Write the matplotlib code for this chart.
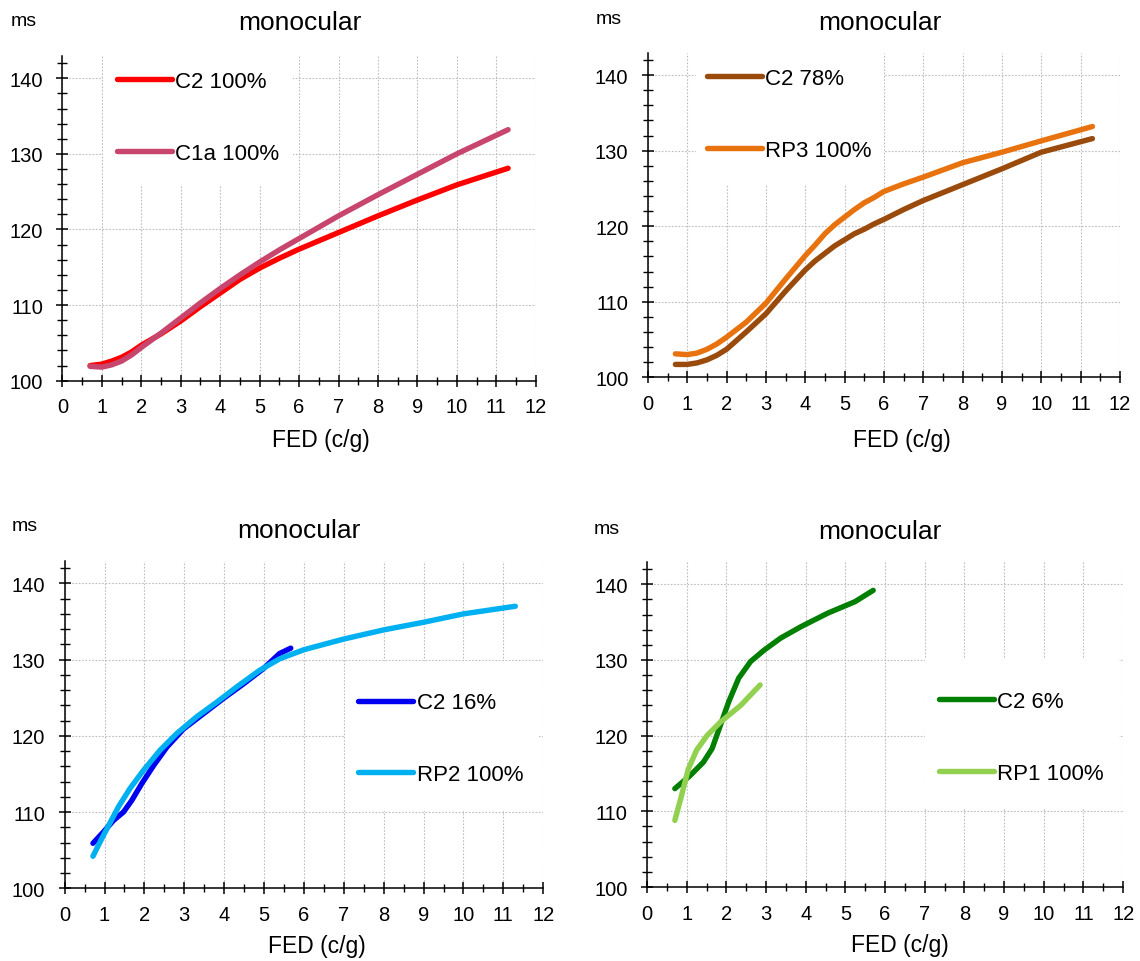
import matplotlib
matplotlib.use("Agg")
import matplotlib.pyplot as plt
from matplotlib.patches import Rectangle
from matplotlib.ticker import MultipleLocator

plt.rcParams["font.family"] = ["Liberation Sans", "DejaVu Sans"]

# ---- data: FED (c/g) vs latency (ms) ----
fed_c2_100 = [0.7, 1.0, 1.25, 1.5, 1.75, 2.0, 2.5, 3.0, 3.5, 4.0, 4.5, 5.0, 5.5, 6.0, 6.5, 7.0, 8.0, 9.0, 10.0, 11.3]
ms_c2_100 = [102.0, 102.2, 102.6, 103.1, 103.8, 104.7, 106.2, 107.9, 109.8, 111.6, 113.4, 114.9, 116.2, 117.4, 118.5, 119.6, 121.8, 123.9, 125.9, 128.1]
fed_c1a_100 = [0.7, 1.0, 1.25, 1.5, 1.75, 2.0, 2.5, 3.0, 3.5, 4.0, 4.5, 5.0, 5.5, 6.0, 6.5, 7.0, 8.0, 9.0, 10.0, 11.3]
ms_c1a_100 = [101.9, 101.8, 102.1, 102.6, 103.4, 104.4, 106.3, 108.3, 110.3, 112.2, 114.0, 115.7, 117.3, 118.8, 120.3, 121.8, 124.6, 127.3, 130.0, 133.2]

fed_c2_78 = [0.7, 1.0, 1.25, 1.5, 1.75, 2.0, 2.5, 3.0, 3.5, 4.0, 4.25, 4.5, 4.75, 5.0, 5.25, 5.5, 5.75, 6.0, 6.5, 7.0, 8.0, 9.0, 10.0, 11.3]
ms_c2_78 = [101.7, 101.7, 101.9, 102.3, 102.9, 103.7, 106.0, 108.4, 111.4, 114.2, 115.4, 116.4, 117.4, 118.2, 119.0, 119.6, 120.3, 120.9, 122.2, 123.4, 125.5, 127.6, 129.8, 131.6]
fed_rp3_100 = [0.7, 1.0, 1.25, 1.5, 1.75, 2.0, 2.5, 3.0, 3.5, 4.0, 4.25, 4.5, 4.75, 5.0, 5.25, 5.5, 5.75, 6.0, 6.5, 7.0, 8.0, 9.0, 10.0, 11.3]
ms_rp3_100 = [103.1, 103.0, 103.2, 103.7, 104.4, 105.3, 107.3, 109.8, 113.0, 116.1, 117.5, 119.0, 120.2, 121.2, 122.2, 123.1, 123.8, 124.6, 125.6, 126.5, 128.4, 129.8, 131.3, 133.2]

fed_c2_16 = [0.71, 0.975, 1.225, 1.475, 1.68, 1.93, 2.23, 2.56, 2.98, 3.48, 3.98, 4.48, 4.98, 5.39, 5.67]
ms_c2_16 = [105.9, 107.4, 108.9, 110.0, 111.5, 113.7, 116.1, 118.5, 120.9, 122.9, 124.9, 126.8, 128.8, 130.8, 131.5]
fed_rp2_100 = [0.71, 0.89, 1.1, 1.35, 1.64, 1.98, 2.39, 2.81, 3.31, 3.81, 4.31, 4.89, 5.39, 6.0, 7.0, 8.0, 9.0, 10.0, 11.3]
ms_rp2_100 = [104.2, 106.1, 108.2, 110.7, 113.1, 115.5, 118.1, 120.3, 122.5, 124.4, 126.4, 128.6, 130.1, 131.3, 132.7, 133.9, 134.9, 136.0, 137.0]

fed_c2_6 = [0.7, 1.08, 1.42, 1.64, 1.85, 2.06, 2.31, 2.61, 2.95, 3.37, 3.88, 4.56, 5.24, 5.7]
ms_c2_6 = [113.0, 114.7, 116.5, 118.3, 121.4, 124.5, 127.6, 129.8, 131.3, 132.9, 134.4, 136.2, 137.7, 139.2]
fed_rp1_100 = [0.7, 0.87, 1.04, 1.25, 1.51, 1.85, 2.36, 2.85]
ms_rp1_100 = [108.8, 112.1, 115.6, 118.1, 120.0, 121.8, 124.0, 126.7]

x_ticks = list(range(0, 13))
y_ticks = [100, 110, 120, 130, 140]
title_text = "monocular"
xlabel_text = "FED (c/g)"
ylabel_text = "ms"

panels = [
    dict(rect=[0.0548, 0.6032, 0.4151, 0.3372],
         series=[(fed_c2_100, ms_c2_100, "#FF0000", "C2 100%"),
                 (fed_c1a_100, ms_c1a_100, "#C8466E", "C1a 100%")],
         leg_anchor=(0.1145, 0.812), box=(0.0856, 0.600, 0.487, 1.0),
         title_xy=(300, 23), xlabel_xy=(321, 440), ms_xy=(11, 21)),
    dict(rect=[0.5683, 0.6068, 0.4141, 0.3368],
         series=[(fed_c2_78, ms_c2_78, "#9A4A0A", "C2 78%"),
                 (fed_rp3_100, ms_rp3_100, "#E8720E", "RP3 100%")],
         leg_anchor=(0.1248, 0.812), box=(0.102, 0.5935, 0.5007, 1.0),
         title_xy=(880, 23), xlabel_xy=(902, 440), ms_xy=(596, 20)),
    dict(rect=[0.0567, 0.0756, 0.4198, 0.3399],
         series=[(fed_c2_16, ms_c2_16, "#0000F0", "C2 16%"),
                 (fed_rp2_100, ms_rp2_100, "#00B0F0", "RP2 100%")],
         leg_anchor=(0.6137, 0.4574), box=(0.5859, 0.2373, 0.991, 0.696),
         title_xy=(299, 531), xlabel_xy=(317, 947), ms_xy=(12, 527)),
    dict(rect=[0.5676, 0.0769, 0.4176, 0.3375],
         series=[(fed_c2_6, ms_c2_6, "#007F00", "C2 6%"),
                 (fed_rp1_100, ms_rp1_100, "#92D050", "RP1 100%")],
         leg_anchor=(0.6129, 0.4613), box=(0.5829, 0.240, 0.991, 0.702),
         title_xy=(880, 532), xlabel_xy=(900, 946), ms_xy=(594, 529)),
]

W, H = 1140, 962
fig = plt.figure(figsize=(W / 100, H / 100), dpi=100)

for p in panels:
    ax = fig.add_axes(p["rect"])
    ax.set_axisbelow(True)
    for x, y, c, lab in p["series"]:
        ax.plot(x, y, color=c, lw=3.9, label=lab,
                solid_capstyle="round", solid_joinstyle="round", zorder=3)
    ax.set_xlim(0, 12)
    ax.set_ylim(100, 142.9)
    ax.set_xticks(x_ticks)
    ax.set_yticks(y_ticks)
    ax.xaxis.set_minor_locator(MultipleLocator(0.5))
    ax.yaxis.set_minor_locator(MultipleLocator(2))
    ax.tick_params(axis="x", which="major", direction="inout", length=9, width=1.1,
                   pad=7.5, labelsize=14.5, color="black")
    ax.tick_params(axis="x", which="minor", direction="inout", length=5.5, width=1.0)
    ax.tick_params(axis="y", which="major", direction="inout", length=8, width=1.1,
                   pad=10, labelsize=14.5, color="black")
    ax.tick_params(axis="y", which="minor", direction="inout", length=6.5, width=1.0)
    for s in ("top", "right"):
        ax.spines[s].set_visible(False)
    for s in ("left", "bottom"):
        ax.spines[s].set_linewidth(1.1)
        ax.spines[s].set_color("black")
    ax.grid(True, which="major", color="#BDBDBD", lw=0.8, linestyle=(0, (1.5, 1.5)))
    ax.patch.set_alpha(0)

    x0, y0, x1, y1 = p["box"]
    ax.add_patch(Rectangle((x0, y0), x1 - x0, y1 - y0, transform=ax.transAxes,
                           facecolor="white", edgecolor="none", zorder=1, clip_on=False))
    ax.legend(loc="center left", bbox_to_anchor=p["leg_anchor"], frameon=False,
              fontsize=16, borderpad=0, borderaxespad=0, handlelength=2.48,
              handletextpad=0.15, labelspacing=2.28)

    tx, ty = p["title_xy"]
    fig.text(tx / W, 1 - ty / H, title_text, ha="center", va="center", fontsize=19)
    lx, ly = p["xlabel_xy"]
    fig.text(lx / W, 1 - ly / H, xlabel_text, ha="center", va="center", fontsize=16.5)
    mx, my = p["ms_xy"]
    fig.text(mx / W, 1 - my / H, ylabel_text, ha="left", va="center", fontsize=14)

fig.savefig("out.png", dpi=100)
